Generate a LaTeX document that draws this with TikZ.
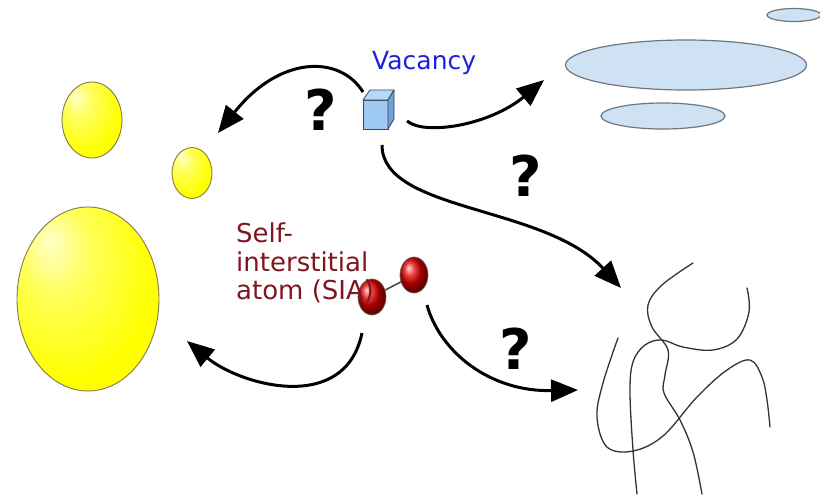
\documentclass[tikz,border=0pt]{standalone}
\usepackage{fontspec}
\setmainfont{DejaVu Sans}
\usetikzlibrary{arrows.meta,shapes.geometric}

\definecolor{vacblue}{RGB}{30,30,225}
\definecolor{siared}{RGB}{128,22,32}
\definecolor{loopfill}{RGB}{207,226,243}
\definecolor{loopline}{RGB}{112,118,124}
\definecolor{cubefront}{RGB}{158,201,243}
\definecolor{cubetop}{RGB}{184,216,247}
\definecolor{cubeside}{RGB}{112,160,216}
\definecolor{cubeedge}{RGB}{55,70,95}
\definecolor{voidedge}{RGB}{130,120,80}

% yellow void shading with an off-centre highlight
\pgfdeclareradialshading{voidshade}{\pgfpoint{-14bp}{16bp}}{%
  color(0bp)=(yellow!20!white);
  color(12bp)=(yellow!65!white);
  color(30bp)=(yellow);
  color(60bp)=(yellow)}

\tikzset{
  void/.style={ellipse, draw=voidedge, line width=0.9pt, shade, shading=voidshade, inner sep=0pt},
  loop/.style={ellipse, draw=loopline, line width=1.2pt, fill=loopfill, inner sep=0pt},
  atom/.style={ellipse, draw=black!60, line width=0.7pt, ball color=red!90!black, inner sep=0pt,
               minimum width=28pt, minimum height=36pt},
  flow/.style={line width=3pt, -{Triangle[length=27pt,width=22pt]}},
  disloc/.style={line width=1.3pt, draw=black!80, line cap=round},
  qmark/.style={font=\bfseries\fontsize{56}{60}\selectfont, inner sep=0pt},
  vaclabel/.style={font=\fontsize{25}{28}\selectfont, text=vacblue, inner sep=0pt},
  sialabel/.style={font=\fontsize{26}{28.5}\selectfont, text=siared, inner sep=0pt, align=left},
}

\begin{document}
\begin{tikzpicture}[x=1pt, y=-1pt]
\useasboundingbox (0,0) rectangle (820,499);

% voids
\node[void, minimum width=60pt, minimum height=76pt]  (voidA) at (92,120) {};
\node[void, minimum width=40pt, minimum height=51pt]  (voidB) at (192,173) {};
\node[void, minimum width=142pt, minimum height=184pt] (voidC) at (88,299) {};

% dislocation loops
\node[loop, minimum width=54pt, minimum height=13pt]  (loopA) at (794,15) {};
\node[loop, minimum width=241pt, minimum height=50pt] (loopB) at (686,65) {};
\node[loop, minimum width=124pt, minimum height=26pt] (loopC) at (663,116) {};

% vacancy cube
\coordinate (cfl) at (363,129);
\coordinate (cfr) at (388,129);
\coordinate (ctl) at (363,100);
\coordinate (ctr) at (388,100);
\coordinate (cbl) at (370,90);
\coordinate (cbr) at (394,90);
\coordinate (cbb) at (394,119);
\filldraw[fill=cubefront, draw=cubeedge, line width=0.8pt, line join=round] (ctl) -- (ctr) -- (cfr) -- (cfl) -- cycle;
\filldraw[fill=cubetop, draw=cubeedge, line width=0.8pt, line join=round] (ctl) -- (cbl) -- (cbr) -- (ctr) -- cycle;
\filldraw[fill=cubeside, draw=cubeedge, line width=0.8pt, line join=round] (ctr) -- (cbr) -- (cbb) -- (cfr) -- cycle;

\node[vaclabel, anchor=base west] (vac) at (372,69) {Vacancy};

% self-interstitial dumbbell
\draw[line width=1.6pt, draw=black!70] (372,297) -- (414,275);
\node[atom] (atomL) at (372,297) {};
\node[atom] (atomR) at (414,275) {};

\node[sialabel, anchor=north west] (sia) at (236,223) {Self-\\interstitial\\atom (SIA)};

% network dislocations
\draw[disloc] plot[smooth, tension=0.6] coordinates {(693,263) (662,285) (648,305) (652,327) (668,350) (665,375) (664,393) (680,420) (693,452) (702,494)};
\draw[disloc] plot[smooth, tension=0.6] coordinates {(747,288) (749,312) (737,339) (713,350) (683,347) (662,340) (645,345) (633,362) (630,392) (633,450) (637,494)};
\draw[disloc] plot[smooth, tension=0.6] coordinates {(618,338) (603,383) (597,417) (607,447) (633,451) (663,436) (697,397) (727,370) (750,360) (762,377) (767,400) (770,427)};

% arrow end points
\coordinate (a1s) at (363,92);   \coordinate (a1e) at (218,133);
\coordinate (a2s) at (407,121);  \coordinate (a2e) at (544,80);
\coordinate (a3s) at (382,145);  \coordinate (a3e) at (621,288);
\coordinate (a4s) at (362,333);  \coordinate (a4e) at (187,341);
\coordinate (a5s) at (427,305);  \coordinate (a5e) at (578,390);

\draw[flow] (a1s) .. controls (340,55) and (280,55) .. (a1e);
\draw[flow] (a2s) .. controls (425,136) and (490,125) .. (a2e);
\draw[flow] (a3s) .. controls (382,212) and (545,205) .. (a3e);
\draw[flow] (a4s) .. controls (345,415) and (240,385) .. (a4e);
\draw[flow] (a5s) .. controls (440,352) and (490,392) .. (a5e);

% question marks
\node[qmark] (q1) at (321,110) {?};
\node[qmark] (q2) at (526,176) {?};
\node[qmark] (q3) at (516,349) {?};
\end{tikzpicture}
\end{document}
